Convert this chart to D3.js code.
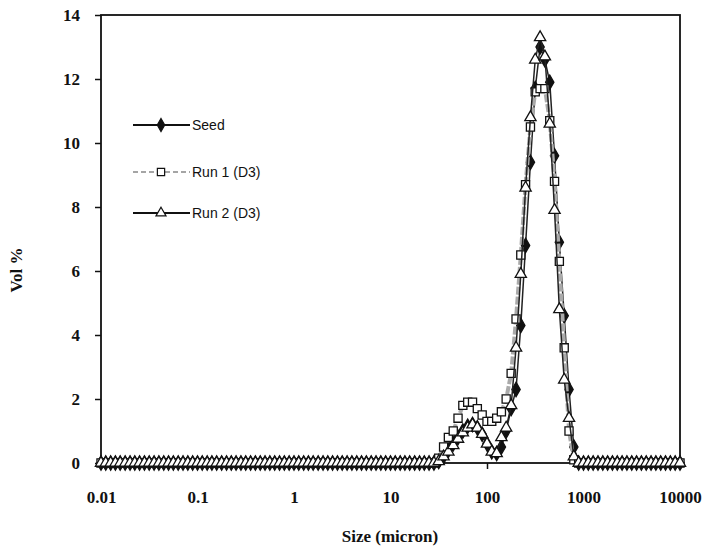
<!DOCTYPE html>
<html>
<head>
<meta charset="utf-8">
<script src="https://cdn.jsdelivr.net/npm/d3@7"></script>
<style>
  body { margin: 0; background: #fff; }
  .tick text { font-family: "Liberation Serif", "DejaVu Serif", serif; font-weight: bold; font-size: 17px; }
</style>
</head>
<body>
<div class="chart"></div>
<script>
// size classes (micron), 20 per decade
var sizes = [
  0.0100,0.0112,0.0126,0.0141,0.0158,0.0178,0.0200,0.0224,0.0251,0.0282,0.0316,0.0355,0.0398,0.0447,0.0501,0.0562,0.0631,0.0708,0.0794,0.0891,
  0.100,0.112,0.126,0.141,0.158,0.178,0.200,0.224,0.251,0.282,0.316,0.355,0.398,0.447,0.501,0.562,0.631,0.708,0.794,0.891,
  1.00,1.12,1.26,1.41,1.58,1.78,2.00,2.24,2.51,2.82,3.16,3.55,3.98,4.47,5.01,5.62,6.31,7.08,7.94,8.91,
  10.0,11.2,12.6,14.1,15.8,17.8,20.0,22.4,25.1,28.2,31.6,35.5,39.8,44.7,50.1,56.2,63.1,70.8,79.4,89.1,
  100,112,126,141,158,178,200,224,251,282,316,355,398,447,501,562,631,708,794,891,
  1000,1122,1259,1413,1585,1778,1995,2239,2512,2818,3162,3548,3981,4467,5012,5623,6310,7079,7943,8913,
  10000
];

var seed = [
  0,0,0,0,0,0,0,0,0,0,0,0,0,0,0,0,0,0,0,0,
  0,0,0,0,0,0,0,0,0,0,0,0,0,0,0,0,0,0,0,0,
  0,0,0,0,0,0,0,0,0,0,0,0,0,0,0,0,0,0,0,0,
  0,0,0,0,0,0,0,0,0,0,0.05,0.2,0.4,0.6,0.8,1.0,1.15,1.2,1.1,0.9,
  0.6,0.35,0.3,0.5,1.0,1.7,2.3,4.3,6.8,9.4,11.7,13.0,12.6,11.9,9.6,6.9,4.6,2.3,0.5,0,
  0,0,0,0,0,0,0,0,0,0,0,0,0,0,0,0,0,0,0,0,
  0
];

var run1 = [
  0,0,0,0,0,0,0,0,0,0,0,0,0,0,0,0,0,0,0,0,
  0,0,0,0,0,0,0,0,0,0,0,0,0,0,0,0,0,0,0,0,
  0,0,0,0,0,0,0,0,0,0,0,0,0,0,0,0,0,0,0,0,
  0,0,0,0,0,0,0,0,0,0,0.15,0.5,0.8,1.0,1.4,1.8,1.9,1.9,1.7,1.5,
  1.3,1.3,1.4,1.6,2.0,2.8,4.5,6.5,8.7,10.5,11.6,11.7,11.7,10.7,8.8,6.3,3.6,1.0,0.1,0,
  0,0,0,0,0,0,0,0,0,0,0,0,0,0,0,0,0,0,0,0,
  0
];

var run2 = [
  0,0,0,0,0,0,0,0,0,0,0,0,0,0,0,0,0,0,0,0,
  0,0,0,0,0,0,0,0,0,0,0,0,0,0,0,0,0,0,0,0,
  0,0,0,0,0,0,0,0,0,0,0,0,0,0,0,0,0,0,0,0,
  0,0,0,0,0,0,0,0,0,0,0.05,0.2,0.35,0.55,0.75,0.95,1.1,1.2,1.1,0.9,
  0.6,0.35,0.3,0.8,1.1,1.8,3.6,5.9,8.6,10.8,12.6,13.3,12.7,10.6,7.9,4.8,2.6,1.4,0.2,0,
  0,0,0,0,0,0,0,0,0,0,0,0,0,0,0,0,0,0,0,0,
  0
];

var seriesNames = ["Seed", "Run 1 (D3)", "Run 2 (D3)"];
var xTicks = [0.01, 0.1, 1, 10, 100, 1000, 10000];
var xTickLabels = ["0.01", "0.1", "1", "10", "100", "1000", "10000"];
var yTicks = [0, 2, 4, 6, 8, 10, 12, 14];

var svgWidth = 708;
var svgHeight = 551;

var margin = { top: 15, right: 28, bottom: 88, left: 101 };
var width = svgWidth - margin.left - margin.right;
var height = svgHeight - margin.top - margin.bottom;

var svg = d3.select(".chart")
  .append("svg")
  .attr("width", svgWidth)
  .attr("height", svgHeight);

var chartGroup = svg.append("g")
  .attr("transform", `translate(${margin.left}, ${margin.top})`);

// scales
var xScale = d3.scaleLog()
  .domain([0.01, 10000])
  .range([0, width]);

var yScale = d3.scaleLinear()
  .domain([0, 14])
  .range([height, 0]);

// axes
var xAxis = d3.axisBottom(xScale)
  .tickValues(xTicks)
  .tickFormat((d, i) => xTickLabels[i])
  .tickSizeInner(6)
  .tickSizeOuter(0)
  .tickPadding(22);

var yAxis = d3.axisLeft(yScale)
  .tickValues(yTicks)
  .tickSizeInner(6)
  .tickSizeOuter(0)
  .tickPadding(15);

var xg = chartGroup.append("g")
  .attr("transform", `translate(0, ${height})`)
  .call(xAxis);

var yg = chartGroup.append("g")
  .call(yAxis);

[xg, yg].forEach(function(g) {
  g.select(".domain").remove();
  g.selectAll(".tick line").attr("stroke", "#111").attr("stroke-width", 1.5);
  g.selectAll(".tick text").attr("fill", "#111");
});

// plot frame
chartGroup.append("rect")
  .attr("x", 0)
  .attr("y", 0)
  .attr("width", width)
  .attr("height", height)
  .attr("fill", "none")
  .attr("stroke", "#111")
  .attr("stroke-width", 1.8);

// series setup
var series = [
  { name: seriesNames[0], values: seed, symbol: d3.symbolDiamond, size: 60, fill: "#111",
    line: "#222", lineWidth: 1.5, dash: null },
  { name: seriesNames[1], values: run1, symbol: d3.symbolSquare, size: 66, fill: "#fff",
    line: "#aaaaaa", lineWidth: 4, dash: "8,2" },
  { name: seriesNames[2], values: run2, symbol: d3.symbolTriangle, size: 55, fill: "#fff",
    line: "#222", lineWidth: 1.5, dash: null }
];

var line = d3.line()
  .x(d => xScale(d.size))
  .y(d => yScale(d.value));

series.forEach(function(s) {
  var pts = sizes.map((d, i) => ({ size: d, value: s.values[i] }));

  chartGroup.append("path")
    .datum(pts)
    .attr("d", line)
    .attr("fill", "none")
    .attr("stroke", s.line)
    .attr("stroke-width", s.lineWidth)
    .attr("stroke-dasharray", s.dash);

  chartGroup.append("g")
    .selectAll("path")
    .data(pts)
    .enter()
    .append("path")
    .attr("d", d3.symbol().type(s.symbol).size(s.size))
    .attr("transform", d => `translate(${xScale(d.size)}, ${yScale(d.value)})`)
    .attr("fill", s.fill)
    .attr("stroke", "#111")
    .attr("stroke-width", 1.3);
});

// legend
var legendY = [110, 157, 198];
var legend = chartGroup.append("g")
  .attr("transform", "translate(32, 0)");

series.forEach(function(s, i) {
  var row = legend.append("g")
    .attr("transform", `translate(0, ${legendY[i]})`);
  row.append("line")
    .attr("x1", 0).attr("x2", 57)
    .attr("y1", 0).attr("y2", 0)
    .attr("stroke", i == 1 ? "#888" : "#111")
    .attr("stroke-width", i == 1 ? 1.5 : 2)
    .attr("stroke-dasharray", i == 1 ? "5,3" : null);
  row.append("path")
    .attr("d", d3.symbol().type(s.symbol).size(s.size * 0.8))
    .attr("transform", "translate(28, 0)")
    .attr("fill", s.fill)
    .attr("stroke", "#111")
    .attr("stroke-width", 1.2);
  row.append("text")
    .attr("x", 59)
    .attr("y", 5)
    .attr("font-family", "'Liberation Sans', Arial, sans-serif")
    .attr("font-size", "14px")
    .attr("fill", "#111")
    .text(s.name);
});

// axis titles
svg.append("text")
  .attr("x", 390)
  .attr("y", 542)
  .attr("text-anchor", "middle")
  .attr("font-family", "'Liberation Serif', serif")
  .attr("font-weight", "bold")
  .attr("font-size", "17px")
  .attr("fill", "#111")
  .text("Size (micron)");

svg.append("text")
  .attr("transform", "translate(22, 270) rotate(-90)")
  .attr("text-anchor", "middle")
  .attr("font-family", "'Liberation Serif', serif")
  .attr("font-weight", "bold")
  .attr("font-size", "17px")
  .attr("fill", "#111")
  .text("Vol %");
</script>
</body>
</html>
